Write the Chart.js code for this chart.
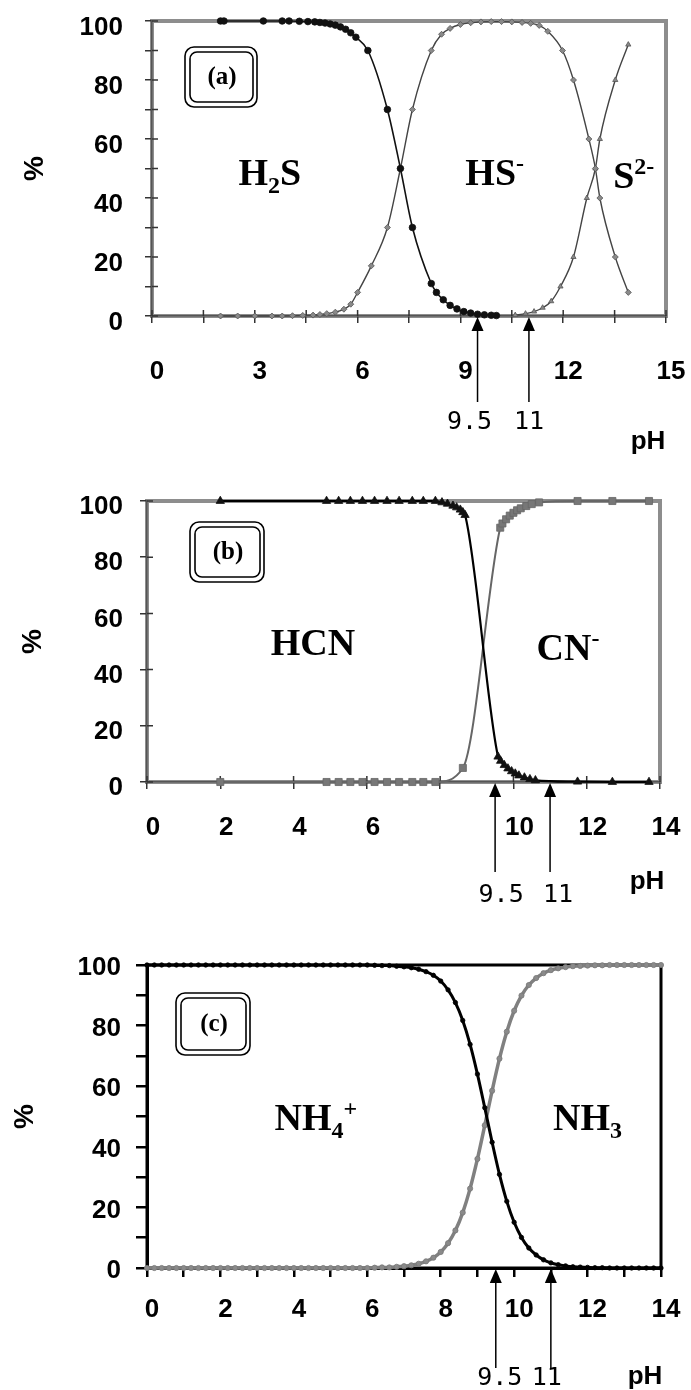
<!DOCTYPE html>
<html>
<head>
<meta charset="utf-8">
<title>Species distribution vs pH</title>
<script src="https://cdn.jsdelivr.net/npm/chart.js@4.4.1/dist/chart.umd.min.js"></script>
<style>
  html, body { margin: 0; padding: 0; background: #fff; }
  #page { position: relative; width: 691px; height: 1390px; overflow: hidden; }
  #page canvas { position: absolute; left: 0; }
</style>
</head>
<body>
<div id="page">
  <canvas id="chartA" width="691" height="455" style="top:0px"></canvas>
  <canvas id="chartB" width="691" height="470" style="top:455px"></canvas>
  <canvas id="chartC" width="691" height="465" style="top:925px"></canvas>
</div>
<script>
// ---- panel (a): sulfide ----
const phH2S = [2.0, 2.1, 3.25, 3.8, 4.0, 4.3, 4.55, 4.75, 4.9, 5.05, 5.2, 5.35, 5.5, 5.65, 5.8, 5.95, 6.3, 6.87, 7.25, 7.6, 8.15, 8.3, 8.5, 8.7, 8.9, 9.1, 9.3, 9.5, 9.7, 9.9, 10.05];
const pctH2S = [100, 100, 100, 100, 100, 99.9, 99.8, 99.7, 99.5, 99.3, 99, 98.6, 98, 97.2, 96, 94.5, 90, 70, 50, 30, 11, 8, 5.5, 3.6, 2.4, 1.5, 1, 0.6, 0.4, 0.25, 0.15];
const phHS = [2.0, 2.5, 3.0, 3.5, 3.8, 4.1, 4.4, 4.7, 4.9, 5.1, 5.35, 5.6, 5.8, 6.0, 6.4, 6.87, 7.25, 7.6, 8.15, 8.45, 8.7, 9.0, 9.3, 9.6, 9.9, 10.2, 10.5, 10.8, 11.05, 11.3, 11.55, 11.98, 12.3, 12.75, 12.94, 13.07, 13.52, 13.9];
const pctHS = [0, 0, 0, 0, 0, 0.1, 0.2, 0.3, 0.5, 0.8, 1.3, 2.3, 4, 8, 17, 30, 50, 70, 90, 95.5, 97.5, 98.8, 99.4, 99.7, 99.8, 99.8, 99.7, 99.5, 99.2, 98.5, 96.5, 90, 80, 60, 50, 40, 20, 8];
const phS2 = [10.6, 10.9, 11.15, 11.4, 11.65, 11.92, 12.3, 12.69, 12.94, 13.07, 13.52, 13.9];
const pctS2 = [0.3, 0.8, 1.5, 2.8, 5, 10, 20, 40, 50, 60, 80, 92];

// ---- panel (b): cyanide ----
const phHCN = [2.0, 4.9, 5.23, 5.55, 5.88, 6.21, 6.55, 6.88, 7.24, 7.54, 7.87, 8.05, 8.2, 8.35, 8.45, 8.55, 8.62, 8.68, 9.58, 9.65, 9.75, 9.85, 9.95, 10.05, 10.15, 10.3, 10.45, 10.6, 11.75, 12.7, 13.7];
const pctHCN = [100, 100, 100, 100, 100, 100, 100, 100, 100, 100, 100, 99.5, 99, 98.3, 97.7, 96.9, 96, 95, 9, 7.5, 6, 4.8, 3.8, 3, 2.3, 1.6, 1, 0.6, 0.1, 0, 0];
const phCN = [2.0, 4.9, 5.23, 5.55, 5.88, 6.21, 6.55, 6.88, 7.24, 7.54, 7.87, 8.62, 9.64, 9.7, 9.8, 9.9, 10.0, 10.1, 10.2, 10.35, 10.5, 10.7, 11.75, 12.7, 13.7];
const pctCN = [0, 0, 0, 0, 0, 0, 0, 0, 0, 0, 0, 5, 90.5, 92, 93.5, 94.8, 95.8, 96.7, 97.4, 98.2, 98.9, 99.5, 100, 100, 100];

// ---- panel (c): ammonia ----
const phNH = [0, 0.2, 0.4, 0.6, 0.8, 1, 1.2, 1.4, 1.6, 1.8, 2, 2.2, 2.4, 2.6, 2.8, 3, 3.2, 3.4, 3.6, 3.8, 4, 4.2, 4.4, 4.6, 4.8, 5, 5.2, 5.4, 5.6, 5.8, 6,
  6.2, 6.4, 6.6, 6.8, 7, 7.2, 7.4, 7.6, 7.8, 8, 8.2, 8.4, 8.6, 8.8, 9, 9.2, 9.4, 9.6, 9.8, 10, 10.2, 10.4, 10.6, 10.8, 11, 11.2, 11.4, 11.6, 11.8, 12,
  12.2, 12.4, 12.6, 12.8, 13, 13.2, 13.4, 13.6, 13.8, 14];
const pctNH4 = [100, 100, 100, 100, 100, 100, 100, 100, 100, 100, 100, 100, 100, 100, 100, 100, 100, 100, 100, 100, 100, 100, 100, 100, 100, 100, 100, 100, 100, 100, 100,
  99.9, 99.8, 99.8, 99.6, 99.4, 99.1, 98.6, 97.8, 96.6, 94.7, 91.8, 87.6, 81.7, 73.8, 64, 52.9, 41.5, 30.9, 22, 15.1, 10.1, 6.6, 4.3, 2.7, 1.7, 1.1, 0.7, 0.4, 0.3, 0.2,
  0.1, 0.1, 0, 0, 0, 0, 0, 0, 0, 0];
const pctNH3 = [0, 0, 0, 0, 0, 0, 0, 0, 0, 0, 0, 0, 0, 0, 0, 0, 0, 0, 0, 0, 0, 0, 0, 0, 0, 0, 0, 0, 0, 0, 0,
  0.1, 0.2, 0.2, 0.4, 0.6, 0.9, 1.4, 2.2, 3.4, 5.3, 8.2, 12.4, 18.3, 26.2, 36, 47.1, 58.5, 69.1, 78, 84.9, 89.9, 93.4, 95.7, 97.3, 98.3, 98.9, 99.3, 99.6, 99.7, 99.8,
  99.9, 99.9, 100, 100, 100, 100, 100, 100, 100, 100];

// ---- axes / annotations ----
const yLabels = [0, 20, 40, 60, 80, 100];
const xLabelsA = [0, 3, 6, 9, 12, 15];
const xLabelsB = [0, 2, 4, 6, 10, 12, 14];
const xLabelsC = [0, 2, 4, 6, 8, 10, 12, 14];
const arrowPH = [9.5, 11];
const arrowText = ["9.5", "11"];

const SANS = '"Liberation Sans", Arial, Helvetica, sans-serif';
const SERIF = '"Liberation Serif", "Times New Roman", serif';
const tickFont = { family: SANS, size: 26, weight: "bold" };

function pts(xs, ys) {
  return xs.map((x, i) => ({ x: x, y: ys[i] }));
}

function hasLabel(list, v) {
  return list.some((t) => Math.abs(t - v) < 1e-6);
}

// text with sub/superscripts, centred on x, baseline y
function drawRich(ctx, parts, x, y, size) {
  const big = "bold " + size + "px " + SERIF;
  const small = "bold " + Math.round(size * 0.62) + "px " + SERIF;
  let total = 0;
  parts.forEach((p) => {
    ctx.font = p[1] ? small : big;
    total += ctx.measureText(p[0]).width;
  });
  let cx = x - total / 2;
  ctx.textAlign = "left";
  ctx.textBaseline = "alphabetic";
  parts.forEach((p) => {
    ctx.font = p[1] ? small : big;
    let dy = 0;
    if (p[1] === "sub") dy = size * 0.2;
    if (p[1] === "sup") dy = -size * 0.36;
    ctx.fillText(p[0], cx, y + dy);
    cx += ctx.measureText(p[0]).width;
  });
}

function roundRect(ctx, x, y, w, h, r) {
  ctx.beginPath();
  ctx.moveTo(x + r, y);
  ctx.arcTo(x + w, y, x + w, y + h, r);
  ctx.arcTo(x + w, y + h, x, y + h, r);
  ctx.arcTo(x, y + h, x, y, r);
  ctx.arcTo(x, y, x + w, y, r);
  ctx.closePath();
  ctx.stroke();
}

function panelDecor(cfg) {
  return {
    id: "panelDecor",
    beforeDraw(chart) {
      const { ctx, chartArea: a } = chart;
      ctx.save();
      ctx.strokeStyle = cfg.frameColor;
      ctx.lineWidth = cfg.frameWidth;
      ctx.strokeRect(a.left, a.top, a.right - a.left, a.bottom - a.top);
      ctx.restore();
    },
    beforeDatasetsDraw(chart) {
      if (!cfg.innerTick) return;
      const { ctx, chartArea: a, scales } = chart;
      ctx.save();
      ctx.strokeStyle = cfg.tickColor;
      ctx.lineWidth = cfg.tickWidth;
      ctx.beginPath();
      scales.x.ticks.forEach((t) => {
        const px = scales.x.getPixelForValue(t.value);
        ctx.moveTo(px, a.bottom);
        ctx.lineTo(px, a.bottom - cfg.innerTick);
      });
      scales.y.ticks.forEach((t) => {
        const py = scales.y.getPixelForValue(t.value);
        ctx.moveTo(a.left, py);
        ctx.lineTo(a.left + cfg.innerTick, py);
      });
      ctx.stroke();
      ctx.restore();
    },
    afterDraw(chart) {
      const { ctx, chartArea: a, scales } = chart;
      ctx.save();
      ctx.fillStyle = "#000";
      ctx.strokeStyle = "#000";

      // panel tag, double rounded box
      const t = cfg.tag;
      const bx = a.left + t.dx;
      const by = a.top + t.dy;
      ctx.lineWidth = 1.6;
      roundRect(ctx, bx, by, t.w, t.h, 9);
      roundRect(ctx, bx + 5, by + 5, t.w - 9, t.h - 10, 7);
      ctx.font = "bold 25px " + SERIF;
      ctx.textAlign = "center";
      ctx.textBaseline = "middle";
      ctx.fillText(t.text, bx + t.w / 2 + 1, by + t.h / 2 + 1);

      // species names
      cfg.species.forEach((s) => {
        drawRich(ctx, s.parts, scales.x.getPixelForValue(s.x), scales.y.getPixelForValue(s.y), 38);
      });

      // arrows at pH 9.5 and 11
      ctx.lineWidth = 1.5;
      arrowPH.forEach((ph, i) => {
        const px = scales.x.getPixelForValue(ph);
        const tip = a.bottom + 1;
        ctx.beginPath();
        ctx.moveTo(px, tip + 10);
        ctx.lineTo(px, a.bottom + cfg.arrowLen);
        ctx.stroke();
        ctx.beginPath();
        ctx.moveTo(px, tip);
        ctx.lineTo(px - 6, tip + 14);
        ctx.lineTo(px + 6, tip + 14);
        ctx.closePath();
        ctx.fill();
        ctx.font = '25px "DejaVu Sans Mono", monospace';
        ctx.textAlign = "center";
        ctx.textBaseline = "middle";
        ctx.fillText(arrowText[i], px + cfg.arrowTextDx[i], a.bottom + cfg.arrowTextDy);
      });

      // pH label
      ctx.font = "bold 26px " + SANS;
      ctx.textAlign = "center";
      ctx.textBaseline = "middle";
      ctx.fillText("pH", a.right + cfg.phDx, a.bottom + cfg.phDy);
      ctx.restore();
    },
  };
}

function makePanel(cfg, datasets) {
  const canvas = document.getElementById(cfg.canvas);
  return new Chart(canvas.getContext("2d"), {
    type: "line",
    data: { datasets: datasets },
    options: {
      responsive: false,
      animation: false,
      events: [],
      layout: { padding: { top: cfg.padTop, right: cfg.padRight, left: 0, bottom: 0 } },
      elements: { line: { cubicInterpolationMode: "monotone" } },
      plugins: { legend: { display: false }, tooltip: { enabled: false } },
      scales: {
        x: {
          type: "linear",
          min: 0,
          max: cfg.xMax,
          // fixed axis box so the plot area lands where the reference has it
          afterFit: (scale) => {
            scale.height = cfg.xAxisHeight;
            scale.paddingLeft = 0;
            scale.paddingRight = 0;
          },
          border: { display: true, color: cfg.axisColor, width: cfg.axisWidth },
          grid: { drawOnChartArea: false, drawTicks: true, tickLength: cfg.xTickLen, color: cfg.tickColor, lineWidth: cfg.tickWidth },
          ticks: {
            stepSize: cfg.xStep,
            autoSkip: false,
            maxRotation: 0,
            padding: cfg.xPad,
            labelOffset: cfg.xLabelOffset,
            color: "#000",
            font: tickFont,
            callback: (v) => (hasLabel(cfg.xLabels, v) ? String(Math.round(v)) : ""),
          },
        },
        y: {
          type: "linear",
          min: 0,
          max: 100,
          afterFit: (scale) => {
            scale.width = cfg.yAxisWidth;
            scale.paddingTop = 0;
            scale.paddingBottom = 0;
          },
          border: { display: true, color: cfg.axisColor, width: cfg.axisWidth },
          grid: { drawOnChartArea: false, drawTicks: true, tickLength: cfg.yTickLen, color: cfg.tickColor, lineWidth: cfg.tickWidth },
          title: { display: true, text: "%", color: "#000", font: { family: SANS, size: 28, weight: "bold" }, padding: { top: cfg.titlePad, bottom: 0 } },
          ticks: {
            stepSize: cfg.yStep,
            autoSkip: false,
            padding: cfg.yPad,
            labelOffset: cfg.yLabelOffset,
            color: "#000",
            font: tickFont,
            callback: (v) => (hasLabel(yLabels, v) ? String(v) : ""),
          },
        },
      },
    },
    plugins: [panelDecor(cfg)],
  });
}

function series(label, data, o) {
  return Object.assign({
    label: label,
    data: data,
    clip: false,
    fill: false,
    pointBorderWidth: 0.8,
  }, o);
}

const panelA = {
  canvas: "chartA", xMax: 15, xStep: 1.5, yStep: 10, xLabels: xLabelsA,
  padTop: 21, padRight: 25, yAxisWidth: 152, xAxisHeight: 139,
  xTickLen: 7, yTickLen: 7, xPad: 33, yPad: 22, xLabelOffset: 5, yLabelOffset: 7,
  tickColor: "#333", tickWidth: 1.5, axisColor: "#555", axisWidth: 1.5,
  frameColor: "#8d8d8d", frameWidth: 4, innerTick: 6, titlePad: 18,
  tag: { text: "(a)", dx: 33, dy: 26, w: 72, h: 60 },
  species: [
    { parts: [["H"], ["2", "sub"], ["S"]], x: 3.44, y: 44.4 },
    { parts: [["HS"], ["-", "sup"]], x: 10.0, y: 44.4 },
    { parts: [["S"], ["2-", "sup"]], x: 14.06, y: 43.4 },
  ],
  arrowLen: 86, arrowTextDy: 106, arrowTextDx: [-8, 0], phDx: -18, phDy: 126,
};

const panelB = {
  canvas: "chartB", xMax: 14, xStep: 2, yStep: 20, xLabels: xLabelsB,
  padTop: 46, padRight: 31, yAxisWidth: 147, xAxisHeight: 143,
  xTickLen: 7, yTickLen: 7, xPad: 23, yPad: 17, xLabelOffset: 6, yLabelOffset: 6,
  tickColor: "#333", tickWidth: 1.5, axisColor: "#555", axisWidth: 1.5,
  frameColor: "#8d8d8d", frameWidth: 4, innerTick: 6, titlePad: 16,
  tag: { text: "(b)", dx: 43, dy: 21, w: 74, h: 60 },
  species: [
    { parts: [["HCN"]], x: 4.53, y: 45.2 },
    { parts: [["CN"], ["-", "sup"]], x: 11.49, y: 43.4 },
  ],
  arrowLen: 90, arrowTextDy: 113, arrowTextDx: [6, 8], phDx: -13, phDy: 100,
};

const panelC = {
  canvas: "chartC", xMax: 14, xStep: 1, yStep: 10, xLabels: xLabelsC,
  padTop: 40, padRight: 30, yAxisWidth: 147, xAxisHeight: 122,
  xTickLen: 9, yTickLen: 11, xPad: 17, yPad: 15, xLabelOffset: 5, yLabelOffset: 3,
  tickColor: "#000", tickWidth: 2.5, axisColor: "#000", axisWidth: 3,
  frameColor: "#000", frameWidth: 3, innerTick: 0, titlePad: 8,
  tag: { text: "(c)", dx: 29, dy: 28, w: 74, h: 62 },
  species: [
    { parts: [["NH"], ["4", "sub"], ["+", "sup"]], x: 4.6, y: 45.5 },
    { parts: [["NH"], ["3", "sub"]], x: 12.0, y: 45.5 },
  ],
  arrowLen: 100, arrowTextDy: 110, arrowTextDx: [4, -4], phDx: -16, phDy: 109,
};

makePanel(panelA, [
  series("H2S", pts(phH2S, pctH2S), { borderColor: "#111", borderWidth: 1.6, pointStyle: "circle", pointRadius: 3.3, pointBackgroundColor: "#111", pointBorderColor: "#111" }),
  series("HS-", pts(phHS, pctHS), { borderColor: "#444", borderWidth: 1.4, pointStyle: "rectRot", pointRadius: 3, pointBackgroundColor: "#8a8a8a", pointBorderColor: "#555" }),
  series("S2-", pts(phS2, pctS2), { borderColor: "#444", borderWidth: 1.4, pointStyle: "triangle", pointRadius: 3, pointBackgroundColor: "#8a8a8a", pointBorderColor: "#555" }),
]);

makePanel(panelB, [
  series("HCN", pts(phHCN, pctHCN), { borderColor: "#000", borderWidth: 2.2, pointStyle: "triangle", pointRadius: 4.8, pointBackgroundColor: "#111", pointBorderColor: "#111" }),
  series("CN-", pts(phCN, pctCN), { borderColor: "#666", borderWidth: 2, pointStyle: "rect", pointRadius: 5, pointBackgroundColor: "#777", pointBorderColor: "#666" }),
]);

makePanel(panelC, [
  series("NH4+", pts(phNH, pctNH4), { borderColor: "#000", borderWidth: 3, pointStyle: "circle", pointRadius: 2.2, pointBackgroundColor: "#000", pointBorderColor: "#000" }),
  series("NH3", pts(phNH, pctNH3), { borderColor: "#808080", borderWidth: 3.5, pointStyle: "circle", pointRadius: 2.6, pointBackgroundColor: "#8a8a8a", pointBorderColor: "#777" }),
]);
</script>
</body>
</html>
